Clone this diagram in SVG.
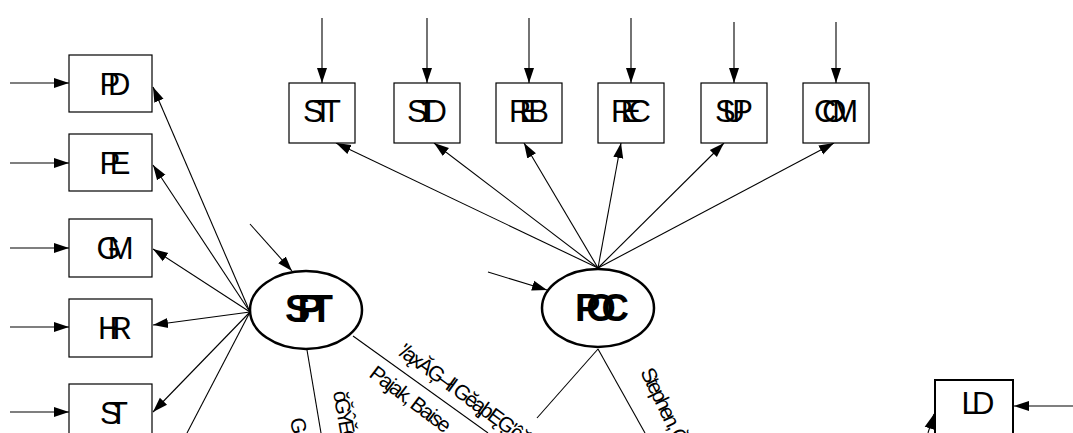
<svg xmlns="http://www.w3.org/2000/svg" width="1073" height="433" viewBox="0 0 1073 433">
<defs>
<marker id="ah" markerUnits="userSpaceOnUse" markerWidth="16" markerHeight="12" refX="15" refY="5" orient="auto" viewBox="0 0 16 10">
<path d="M0,0 L15,5 L0,10 z" fill="#000"/>
</marker>
</defs>
<style>
.box{fill:#fff;stroke:#000;stroke-width:1.2}
.lbl{font-family:"Liberation Sans",Arial,sans-serif;font-size:31px;fill:#000;text-anchor:middle}
.lat{fill:#fff;stroke:#000;stroke-width:2.5}
.latl{font-family:"Liberation Sans",Arial,sans-serif;font-size:38px;font-weight:bold;fill:#000;text-anchor:middle}
.c{stroke:#000;stroke-width:1.1;fill:none}
.ca{stroke:#000;stroke-width:1.1;fill:none;marker-end:url(#ah)}
.pl{font-family:"Liberation Sans",Arial,sans-serif;font-size:21px;fill:#000}
</style>
<g id="connectors">
<line class="ca" x1="10" y1="83" x2="69" y2="83"/>
<line class="ca" x1="10" y1="163" x2="69" y2="163"/>
<line class="ca" x1="10" y1="248" x2="69" y2="248"/>
<line class="ca" x1="10" y1="327" x2="69" y2="327"/>
<line class="ca" x1="10" y1="412" x2="69" y2="412"/>
<line class="ca" x1="250" y1="312" x2="153" y2="87"/>
<line class="ca" x1="250" y1="312" x2="153" y2="165"/>
<line class="ca" x1="250" y1="312" x2="153" y2="249"/>
<line class="ca" x1="250" y1="312" x2="153" y2="325"/>
<line class="ca" x1="250" y1="312" x2="153" y2="412"/>
<line class="c" x1="250" y1="312" x2="187" y2="433"/>
<line class="ca" x1="250" y1="224" x2="292" y2="271"/>
<line class="ca" x1="488" y1="272" x2="547" y2="290"/>
<line class="ca" x1="322" y1="18" x2="322" y2="83"/>
<line class="ca" x1="427" y1="18" x2="427" y2="83"/>
<line class="ca" x1="529" y1="18" x2="529" y2="83"/>
<line class="ca" x1="631" y1="18" x2="631" y2="83"/>
<line class="ca" x1="734" y1="22" x2="734" y2="83"/>
<line class="ca" x1="836" y1="22" x2="836" y2="83"/>
<line class="ca" x1="598" y1="268" x2="336" y2="143"/>
<line class="ca" x1="598" y1="268" x2="434" y2="143"/>
<line class="ca" x1="598" y1="268" x2="524" y2="143"/>
<line class="ca" x1="598" y1="268" x2="621" y2="143"/>
<line class="ca" x1="598" y1="268" x2="724" y2="143"/>
<line class="ca" x1="598" y1="268" x2="834" y2="143"/>
<line class="c" x1="307" y1="350" x2="321" y2="433"/>
<line class="c" x1="353" y1="336" x2="488" y2="433"/>
<line class="c" x1="598" y1="349" x2="537" y2="418"/>
<line class="c" x1="598" y1="349" x2="645" y2="433"/>
<line class="ca" x1="1073" y1="406" x2="1014" y2="406"/>
<line class="ca" x1="928" y1="433" x2="934" y2="414"/>
</g>
<g id="PD"><rect class="box" x="69" y="55" width="83" height="57"/><text class="lbl" x="115" y="94.5" textLength="31" lengthAdjust="spacing">PD</text></g>
<g id="PE"><rect class="box" x="69" y="134" width="83" height="57"/><text class="lbl" x="115" y="173.5" textLength="31" lengthAdjust="spacing">PE</text></g>
<g id="GM"><rect class="box" x="69" y="219" width="83" height="58"/><text class="lbl" x="115" y="259" textLength="37" lengthAdjust="spacing">GM</text></g>
<g id="HR"><rect class="box" x="69" y="299" width="83" height="58"/><text class="lbl" x="115" y="339" textLength="34" lengthAdjust="spacing">HR</text></g>
<g id="ST"><rect class="box" x="69" y="384" width="83" height="58"/><text class="lbl" x="114" y="423.5" textLength="28" lengthAdjust="spacing">ST</text></g>
<g id="STT"><rect class="box" x="289" y="83" width="66" height="60"/><text class="lbl" x="322" y="122" textLength="38" lengthAdjust="spacing">STT</text></g>
<g id="STD"><rect class="box" x="394" y="83" width="66" height="60"/><text class="lbl" x="427" y="122" textLength="40" lengthAdjust="spacing">STD</text></g>
<g id="REB"><rect class="box" x="496" y="83" width="66" height="60"/><text class="lbl" x="529" y="122" textLength="40" lengthAdjust="spacing">REB</text></g>
<g id="REC"><rect class="box" x="598" y="83" width="66" height="60"/><text class="lbl" x="631" y="122" textLength="40" lengthAdjust="spacing">REC</text></g>
<g id="SUP"><rect class="box" x="701" y="83" width="66" height="60"/><text class="lbl" x="734" y="122" textLength="38" lengthAdjust="spacing">SUP</text></g>
<g id="COM"><rect class="box" x="803" y="83" width="66" height="60"/><text class="lbl" x="836" y="122" textLength="44" lengthAdjust="spacing">COM</text></g>
<g id="SPT"><ellipse class="lat" cx="306" cy="310" rx="56" ry="39"/><text class="latl" x="309" y="322" textLength="48" lengthAdjust="spacing">SPT</text></g>
<g id="POC"><ellipse class="lat" cx="598" cy="308" rx="56" ry="39"/><text class="latl" x="602" y="321" textLength="54" lengthAdjust="spacing">POC</text></g>
<g id="LD"><rect x="935" y="380" width="78" height="57" fill="#fff" stroke="#000" stroke-width="2"/><text class="lbl" x="978" y="414" textLength="33" lengthAdjust="spacing">LD</text></g>
<g id="labels">
<text class="pl" font-size="22" transform="translate(368,376) rotate(37)" textLength="96" lengthAdjust="spacing">Pajak, Baise</text>
<text class="pl" font-size="19" transform="translate(397,354) rotate(36)" textLength="185" lengthAdjust="spacing">ʹ/ąxĂĢ–łl GĕąþĘĢ'ĉĕĥĸŏ</text>
<text class="pl" font-size="17" transform="translate(333,392) rotate(80)" textLength="64" lengthAdjust="spacing">ŏĞŶĚĞƌ͕</text>
<text class="pl" font-size="19" transform="translate(290,419) rotate(80)">G</text>
<text class="pl" font-size="22" transform="translate(640,372) rotate(64)" textLength="86" lengthAdjust="spacing">Stephen, Ğƚ</text>
</g>
</svg>
